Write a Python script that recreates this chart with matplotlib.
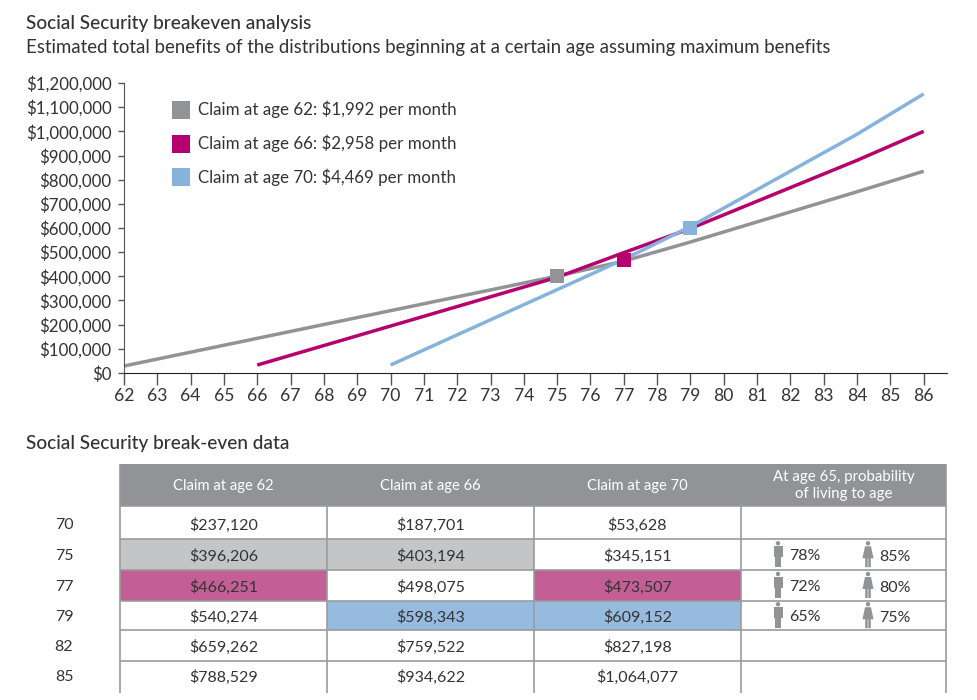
import matplotlib
matplotlib.use("Agg")
import matplotlib.pyplot as plt
from matplotlib.patches import Rectangle, Circle, Polygon

plt.rcParams['font.family'] = ['Lato', 'DejaVu Sans']

# lines
ages_62 = [62, 75, 77, 79, 84, 86]
vals_62 = [29000, 401000, 463000, 542000, 750000, 835000]
ages_66 = [66, 75, 77, 79, 84, 86]
vals_66 = [33000, 396000, 498000, 598000, 880000, 1000000]
ages_70 = [70, 75, 77, 79, 84, 86]
vals_70 = [33000, 345000, 470000, 606000, 988000, 1155000]

# markers at the breakeven points
break_ages = [75, 77, 79]
break_vals = [403000, 466000, 600000]

x_ticks = list(range(62, 87))
y_ticks = list(range(0, 1300000, 100000))

legend_labels = ["Claim at age 62: $1,992 per month",
                 "Claim at age 66: $2,958 per month",
                 "Claim at age 70: $4,469 per month"]

# table
col_headers = ["Claim at age 62", "Claim at age 66", "Claim at age 70"]
row_ages = ["70", "75", "77", "79", "82", "85"]
claim_62 = ["$237,120", "$396,206", "$466,251", "$540,274", "$659,262", "$788,529"]
claim_66 = ["$187,701", "$403,194", "$498,075", "$598,343", "$759,522", "$934,622"]
claim_70 = ["$53,628", "$345,151", "$473,507", "$609,152", "$827,198", "$1,064,077"]
men_pct = ["", "78%", "72%", "65%", "", ""]
women_pct = ["", "85%", "80%", "75%", "", ""]

GRAY = "#929396"
MAGENTA = "#B5006E"
BLUE = "#85B3DB"
TEXT = "#333335"
LINE = "#9A9B9E"
# which cell gets which fill: (row, col)
cell_fill = {(1, 0): "#C4C5C7", (1, 1): "#C4C5C7",
             (2, 0): "#C45F95", (2, 2): "#C45F95",
             (3, 1): "#97BBDE", (3, 2): "#97BBDE"}

W, H = 977, 700
fig = plt.figure(figsize=(W / 100, H / 100), dpi=100, facecolor="white")

# pixel overlay for text and the table
pix = fig.add_axes([0, 0, 1, 1])
pix.set_xlim(0, W)
pix.set_ylim(H, 0)
pix.axis("off")

# chart
ax = fig.add_axes([124 / W, 1 - 373 / H, 823 / W, 290 / H])
ax.patch.set_alpha(0)
ax.plot(ages_62, vals_62, color=GRAY, lw=2.5, clip_on=False, solid_capstyle="butt")
ax.plot(ages_66, vals_66, color=MAGENTA, lw=2.5, clip_on=False, solid_capstyle="butt")
ax.plot(ages_70, vals_70, color=BLUE, lw=2.5, clip_on=False, solid_capstyle="butt")
for a, v, c in zip(break_ages, break_vals, [GRAY, MAGENTA, BLUE]):
    ax.plot([a], [v], "s", color=c, ms=9.8, mew=0, zorder=5)

ax.set_xlim(62, 86.7)
ax.set_ylim(0, 1200000)
ax.set_xticks(x_ticks)
ax.set_xticklabels([str(x) for x in x_ticks])
ax.set_yticks(y_ticks)
ax.set_yticklabels(["${:,}".format(y) for y in y_ticks])
ax.tick_params(axis="x", length=8.5, width=1, color="#55565A", labelsize=12.6, pad=2.5, labelcolor=TEXT)
ax.tick_params(axis="y", length=4.5, width=1, color="#55565A", labelsize=12.2, pad=4.5, labelcolor=TEXT)
for s in ["top", "right"]:
    ax.spines[s].set_visible(False)
ax.spines["left"].set_color("#55565A")
ax.spines["bottom"].set_color("#222222")

# titles
pix.text(26, 23, "Social Security breakeven analysis", fontsize=13.7, color=TEXT, va="center", fontweight="medium")
pix.text(26, 47, "Estimated total benefits of the distributions beginning at a certain age assuming maximum benefits",
         fontsize=13.4, color=TEXT, va="center")
pix.text(26, 443, "Social Security break-even data", fontsize=13.7, color=TEXT, va="center", fontweight="medium")

# legend
for yc, label, c in zip([109.5, 143.5, 177], legend_labels, [GRAY, MAGENTA, BLUE]):
    pix.add_patch(Rectangle((172, yc - 9), 18, 18, fc=c, ec="none"))
    pix.text(198, yc, label, fontsize=12.2, color=TEXT, va="center")

# table geometry
col_x = [120, 327, 534, 741, 946]
row_y = [506, 539, 569.5, 600.5, 630, 661, 693]
text_y = [525, 556, 587, 617, 647, 677]
pix.add_patch(Rectangle((120, 464), 826, 42, fc=GRAY, ec="none"))
for i, h in enumerate(col_headers):
    pix.text((col_x[i] + col_x[i + 1]) / 2, 486, h, color="white", fontsize=10.6, ha="center", va="center")
pix.text(843.5, 485.5, "At age 65, probability\nof living to age", color="white", fontsize=10.8,
         ha="center", va="center", linespacing=1.3)

for (r, c), fill in cell_fill.items():
    pix.add_patch(Rectangle((col_x[c], row_y[r]), col_x[c + 1] - col_x[c], row_y[r + 1] - row_y[r], fc=fill, ec="none"))

for y in row_y[:-1]:
    pix.plot([120, 946], [y, y], color=LINE, lw=1.2, solid_capstyle="butt")
for x in col_x:
    pix.plot([x, x], [464 if x in (120, 946) else 506, 693], color=LINE, lw=1.2, solid_capstyle="butt")


def man(x, yc):
    pix.add_patch(Circle((x, yc - 11), 2.2, fc=GRAY, ec="none"))
    pix.add_patch(Polygon([(x - 4.5, yc - 8), (x + 4.5, yc - 8), (x + 4.5, yc + 3), (x + 2.8, yc + 3),
                           (x + 2.8, yc + 13), (x + 0.3, yc + 13), (x + 0.3, yc + 3), (x - 0.3, yc + 3),
                           (x - 0.3, yc + 13), (x - 2.8, yc + 13), (x - 2.8, yc + 3), (x - 4.5, yc + 3)],
                          fc=GRAY, ec="none"))


def woman(x, yc):
    pix.add_patch(Circle((x, yc - 11), 2.2, fc=GRAY, ec="none"))
    pix.add_patch(Polygon([(x - 3, yc - 8), (x + 3, yc - 8), (x + 5.5, yc + 4), (x + 2.8, yc + 4),
                           (x + 2.8, yc + 13), (x + 0.3, yc + 13), (x + 0.3, yc + 4), (x - 0.3, yc + 4),
                           (x - 0.3, yc + 13), (x - 2.8, yc + 13), (x - 2.8, yc + 4), (x - 5.5, yc + 4)],
                          fc=GRAY, ec="none"))


for r, age in enumerate(row_ages):
    yc = (row_y[r] + row_y[r + 1]) / 2
    pix.text(64, text_y[r], age, fontsize=11.5, color=TEXT, ha="center", va="center")
    for c, col in enumerate([claim_62, claim_66, claim_70]):
        pix.text((col_x[c] + col_x[c + 1]) / 2, text_y[r], col[r], fontsize=11.5, color=TEXT, ha="center", va="center")
    if men_pct[r]:
        man(778, yc)
        pix.text(789, yc + 2, men_pct[r], fontsize=11.5, color=TEXT, va="center")
        woman(868, yc)
        pix.text(879, yc + 3, women_pct[r], fontsize=11.5, color=TEXT, va="center")

fig.savefig("out.png", dpi=100)
